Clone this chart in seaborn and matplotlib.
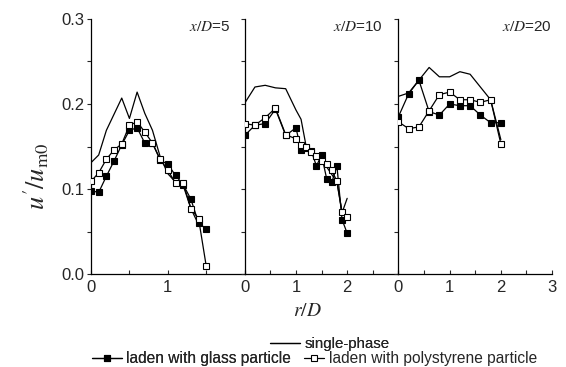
import matplotlib
matplotlib.use("Agg")
import matplotlib.pyplot as plt
from matplotlib.lines import Line2D
from matplotlib.ticker import MultipleLocator
import seaborn as sns
import pandas as pd

# Radial profiles of u'/u_m0 at three downstream stations
stations = ["$x/D$=5", "$x/D$=10", "$x/D$=20"]

r_single_5 = [0.0, 0.1, 0.2, 0.3, 0.4, 0.5, 0.6, 0.7, 0.8, 0.9, 1.0, 1.1, 1.2, 1.3, 1.4]
single_5 = [0.131, 0.140, 0.169, 0.188, 0.207, 0.183, 0.214, 0.189, 0.169, 0.138,
            0.118, 0.108, 0.104, 0.077, 0.058]
r_laden_5 = [0.0, 0.1, 0.2, 0.3, 0.4, 0.5, 0.6, 0.7, 0.8, 0.9, 1.0, 1.1, 1.2, 1.3, 1.4, 1.5]
glass_5 = [0.098, 0.096, 0.115, 0.133, 0.152, 0.169, 0.172, 0.154, 0.154, 0.134,
           0.129, 0.116, 0.105, 0.088, 0.060, 0.053]
poly_5 = [0.109, 0.119, 0.135, 0.146, 0.153, 0.175, 0.179, 0.167, 0.154, 0.135,
          0.122, 0.107, 0.107, 0.077, 0.065, 0.009]

r_single_10 = [0.0, 0.2, 0.4, 0.6, 0.8, 1.0, 1.1, 1.2, 1.3, 1.4, 1.5, 1.6, 1.7, 1.8, 1.9, 2.0]
single_10 = [0.201, 0.220, 0.222, 0.219, 0.218, 0.193, 0.182, 0.150, 0.145, 0.138,
             0.132, 0.126, 0.117, 0.108, 0.072, 0.089]
r_laden_10 = [0.0, 0.2, 0.4, 0.6, 0.8, 1.0, 1.1, 1.2, 1.3, 1.4, 1.5, 1.6, 1.7, 1.8, 1.9, 2.0]
glass_10 = [0.163, 0.175, 0.177, 0.194, 0.163, 0.172, 0.146, 0.148, 0.145, 0.127,
            0.140, 0.112, 0.108, 0.127, 0.064, 0.048]
poly_10 = [0.177, 0.175, 0.184, 0.195, 0.164, 0.159, 0.152, 0.149, 0.143, 0.139,
           0.133, 0.130, 0.122, 0.109, 0.073, 0.067]

r_single_20 = [0.0, 0.2, 0.4, 0.6, 0.8, 1.0, 1.2, 1.4, 1.6, 1.8, 2.0]
single_20 = [0.209, 0.213, 0.228, 0.243, 0.232, 0.232, 0.238, 0.235, 0.220, 0.205, 0.158]
r_laden_20 = [0.0, 0.2, 0.4, 0.6, 0.8, 1.0, 1.2, 1.4, 1.6, 1.8, 2.0]
glass_20 = [0.185, 0.212, 0.228, 0.191, 0.187, 0.200, 0.198, 0.198, 0.187, 0.178, 0.178]
poly_20 = [0.179, 0.171, 0.173, 0.192, 0.211, 0.214, 0.205, 0.205, 0.202, 0.205, 0.153]

y_ticks = [0.0, 0.1, 0.2, 0.3]
y_ticklabels = ["0.0", "0.1", "0.2", "0.3"]

series_labels = ["single-phase", "laden with glass particle",
                 "laden with polystyrene particle"]

panels = [
    (r_single_5, single_5, r_laden_5, glass_5, poly_5, 2, [0, 1]),
    (r_single_10, single_10, r_laden_10, glass_10, poly_10, 3, [0, 1, 2]),
    (r_single_20, single_20, r_laden_20, glass_20, poly_20, 3, [0, 1, 2, 3]),
]

sns.set_style("ticks")
plt.rcParams["font.family"] = ["Liberation Sans", "DejaVu Sans"]
plt.rcParams["mathtext.fontset"] = "stix"

fig = plt.figure(figsize=(5.66, 3.67), dpi=100)
W, H = 566.0, 367.0
left_px, bottom_px, top_px, panel_w = 91.0, 274.0, 19.0, 153.7

line_kw = dict(color="black", linewidth=0.9, estimator=None, sort=False, legend=False)
filled_kw = dict(marker="s", markersize=4.5, markerfacecolor="black",
                 markeredgecolor="black", markeredgewidth=0.8)
open_kw = dict(marker="s", markersize=4.5, markerfacecolor="white",
               markeredgecolor="black", markeredgewidth=0.8)

label_x = [0.905, 0.895, 1.0]

for i, (rs, s, rl, g, p, xmax, shown) in enumerate(panels):
    ax = fig.add_axes([(left_px + i * panel_w) / W, (H - bottom_px) / H,
                       panel_w / W, (bottom_px - top_px) / H])
    df_s = pd.DataFrame({"r": rs, "v": s})
    df_g = pd.DataFrame({"r": rl, "v": g})
    df_p = pd.DataFrame({"r": rl, "v": p})
    sns.lineplot(data=df_s, x="r", y="v", ax=ax, zorder=2, **line_kw)
    sns.lineplot(data=df_g, x="r", y="v", ax=ax, zorder=3, **line_kw, **filled_kw)
    sns.lineplot(data=df_p, x="r", y="v", ax=ax, zorder=4, **line_kw, **open_kw)

    ax.set_xlabel("")
    ax.set_ylabel("")
    xt = list(range(0, xmax + 1))
    ax.set_xticks(xt)
    ax.set_xticklabels([str(t) if t in shown else "" for t in xt])
    ax.xaxis.set_minor_locator(MultipleLocator(0.5))
    ax.set_yticks(y_ticks)
    ax.yaxis.set_minor_locator(MultipleLocator(0.05))
    if i == 0:
        ax.set_yticklabels(y_ticklabels)
    else:
        ax.tick_params(axis="y", labelleft=False)
    ax.set_xlim(0, xmax)
    ax.set_ylim(0, 0.3)
    ax.tick_params(axis="x", which="both", direction="in", length=3, width=0.8,
                   labelsize=12, pad=4)
    ax.tick_params(axis="y", which="both", direction="out", length=3, width=0.8,
                   labelsize=12, pad=2)
    for side in ("top", "right"):
        ax.spines[side].set_visible(False)
    for side in ("left", "bottom"):
        ax.spines[side].set_linewidth(0.9)
        ax.spines[side].set_color("black")
    ax.patch.set_alpha(0)
    ax.text(label_x[i], 0.97, stations[i], transform=ax.transAxes,
            ha="right", va="center", fontsize=11)

fig.text(36 / W, 1 - 176 / H, r"$u'/u_{\mathrm{m0}}$", rotation=90,
         ha="center", va="center", fontsize=19)
fig.text(307 / W, 1 - 312 / H, r"$r/D$", ha="center", va="center", fontsize=14)

h_single = Line2D([], [], color="black", linewidth=0.9)
h_glass = Line2D([], [], color="black", linewidth=0.9, **filled_kw)
h_poly = Line2D([], [], color="black", linewidth=0.9, **open_kw)

leg_kw = dict(loc="center left", frameon=False, handletextpad=0.3,
              borderpad=0, borderaxespad=0)
leg1 = fig.legend([h_single], [series_labels[0]], fontsize=10.8, handlelength=2.0,
                  bbox_to_anchor=(270 / W, 1 - 344 / H), **leg_kw)
fig.add_artist(leg1)
leg2 = fig.legend([h_glass], [series_labels[1]], fontsize=11.2, handlelength=1.9,
                  bbox_to_anchor=(92 / W, 1 - 359 / H), **leg_kw)
fig.add_artist(leg2)
fig.legend([h_poly], [series_labels[2]], fontsize=11.2, handlelength=1.3,
           bbox_to_anchor=(304 / W, 1 - 359 / H), **leg_kw)

fig.savefig("out.png", dpi=100)
